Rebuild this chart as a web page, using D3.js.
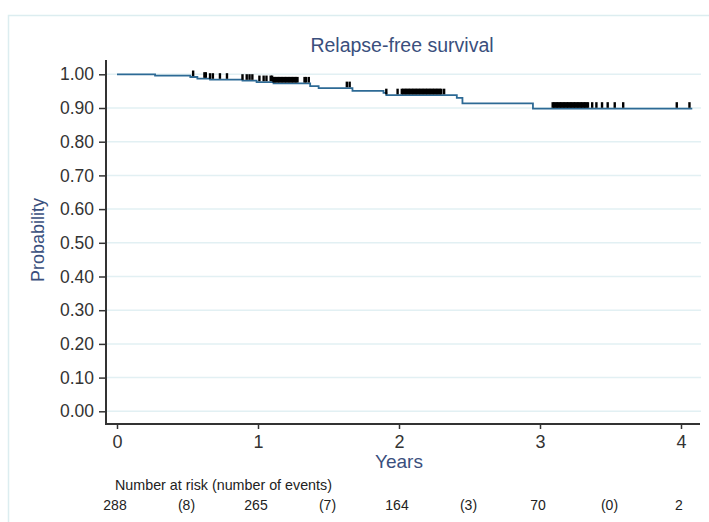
<!DOCTYPE html>
<html>
<head>
<meta charset="utf-8">
<script src="https://cdn.jsdelivr.net/npm/d3@7"></script>
<style>
  html, body { margin: 0; padding: 0; background: #fff; }
  svg { display: block; font-family: "Liberation Sans", Arial, sans-serif; }
</style>
</head>
<body>
<svg id="chart"></svg>
<script>
// step curve: time (years) at which survival drops, and the value after the drop
var stepTimes = [0, 0.27, 0.52, 0.57, 0.66, 0.89, 0.99, 1.11, 1.37, 1.43, 1.67, 1.89, 1.91, 2.41, 2.45, 2.95];
var stepValues = [1.000, 0.996, 0.992, 0.987, 0.984, 0.981, 0.977, 0.973, 0.965, 0.959, 0.951, 0.945, 0.938, 0.930, 0.914, 0.898];
var lastTime = 4.08;

// censored observations (tick marks)
var censorTimes = [
    0.54, 0.62, 0.63, 0.66, 0.68, 0.73, 0.78, 0.89, 0.92, 0.94, 0.96, 1.01, 1.04, 1.06,
    1.09, 1.10, 1.11, 1.12, 1.13, 1.14, 1.15, 1.16, 1.17, 1.18, 1.19, 1.20, 1.21, 1.22,
    1.23, 1.24, 1.25, 1.26, 1.27, 1.28, 1.33, 1.34, 1.36,
    1.63, 1.65, 1.91, 1.99,
    2.02, 2.03, 2.04, 2.05, 2.06, 2.07, 2.08, 2.09, 2.10, 2.11, 2.12, 2.13, 2.14, 2.15,
    2.16, 2.17, 2.18, 2.19, 2.20, 2.21, 2.22, 2.23, 2.24, 2.25, 2.26, 2.27, 2.28, 2.29,
    2.30, 2.32,
    3.09, 3.10, 3.11, 3.12, 3.13, 3.14, 3.15, 3.16, 3.17, 3.18, 3.19, 3.20, 3.21, 3.22,
    3.23, 3.24, 3.25, 3.26, 3.27, 3.28, 3.29, 3.30, 3.31, 3.32, 3.33, 3.34,
    3.37, 3.40, 3.44, 3.48, 3.53, 3.59, 3.97, 4.06
];

var xTicks = [0, 1, 2, 3, 4];
var yTicks = [0, 0.1, 0.2, 0.3, 0.4, 0.5, 0.6, 0.7, 0.8, 0.9, 1.0];

// number at risk table
var riskTimes = [0, 1, 2, 3, 4];
var atRisk = [288, 265, 164, 70, 2];
var eventTimes = [0.5, 1.5, 2.5, 3.5];
var eventCounts = [8, 7, 3, 0];

var width = 709;
var height = 522;
var titleColor = '#3a4f7d';
var curveColor = '#2d6a95';

var svg = d3.select('#chart')
    .attr('width', width)
    .attr('height', height);

// outer frame
svg.append('rect')
    .attr('x', 8.5).attr('y', 15.5)
    .attr('width', 730).attr('height', 530)
    .attr('fill', '#fff')
    .attr('stroke', '#dcedf0')
    .attr('stroke-width', 1.5);

var x = d3.scaleLinear().domain([0, 4]).range([117, 681]);
var y = d3.scaleLinear().domain([0, 1]).range([411.3, 74.3]);

var plotLeft = 106, plotRight = 701, plotTop = 60, plotBottom = 424;

// gridlines
svg.append('g')
    .selectAll('line').data(yTicks)
    .enter().append('line')
    .attr('x1', plotLeft).attr('x2', plotRight)
    .attr('y1', d => y(d)).attr('y2', d => y(d))
    .attr('stroke', '#e2f0f3')
    .attr('stroke-width', 1.5);

// y axis
var yAxis = svg.append('g')
    .attr('transform', `translate(${plotLeft},0)`)
    .call(d3.axisLeft(y).tickValues(yTicks).tickSize(7).tickPadding(5).tickFormat(d3.format('.2f')));
yAxis.select('.domain').remove();
yAxis.selectAll('line').attr('stroke', '#333').attr('stroke-width', 1.5);
yAxis.selectAll('text')
    .attr('font-size', 17.5)
    .attr('fill', '#333')
    .attr('font-family', '"Liberation Sans", Arial, sans-serif');
svg.append('line')
    .attr('x1', plotLeft).attr('x2', plotLeft)
    .attr('y1', plotTop).attr('y2', plotBottom)
    .attr('stroke', '#333').attr('stroke-width', 2);

// x axis
var xAxis = svg.append('g')
    .attr('transform', `translate(0,${plotBottom})`)
    .call(d3.axisBottom(x).tickValues(xTicks).tickSize(5).tickPadding(6).tickFormat(d3.format('d')));
xAxis.select('.domain').remove();
xAxis.selectAll('line').attr('stroke', '#333').attr('stroke-width', 1.5);
xAxis.selectAll('text')
    .attr('font-size', 18)
    .attr('fill', '#333')
    .attr('font-family', '"Liberation Sans", Arial, sans-serif');
svg.append('line')
    .attr('x1', plotLeft - 1).attr('x2', plotRight - 1)
    .attr('y1', plotBottom).attr('y2', plotBottom)
    .attr('stroke', '#333').attr('stroke-width', 2);

// survival curve
var curvePoints = stepTimes.map((t, i) => [t, stepValues[i]]);
curvePoints.push([lastTime, stepValues[stepValues.length - 1]]);
var lineGen = d3.line()
    .x(d => x(d[0]))
    .y(d => y(d[1]))
    .curve(d3.curveStepAfter);
svg.append('path')
    .datum(curvePoints)
    .attr('d', lineGen)
    .attr('fill', 'none')
    .attr('stroke', curveColor)
    .attr('stroke-width', 1.8);

function survivalAt(t) {
    var i = d3.bisectRight(stepTimes, t) - 1;
    return stepValues[Math.max(0, i)];
}

// censor marks
svg.append('g')
    .selectAll('line').data(censorTimes)
    .enter().append('line')
    .attr('x1', d => x(d)).attr('x2', d => x(d))
    .attr('y1', d => y(survivalAt(d)) - 0.9)
    .attr('y2', d => y(survivalAt(d)) - 6.5)
    .attr('stroke', '#000')
    .attr('stroke-width', 2.4);

// titles
svg.append('text')
    .attr('x', 402).attr('y', 52)
    .attr('text-anchor', 'middle')
    .attr('font-size', 19.5)
    .attr('fill', titleColor)
    .text('Relapse-free survival');

svg.append('text')
    .attr('transform', 'translate(44,240) rotate(-90)')
    .attr('text-anchor', 'middle')
    .attr('font-size', 18)
    .attr('fill', titleColor)
    .text('Probability');

svg.append('text')
    .attr('x', x(2)).attr('y', 468)
    .attr('text-anchor', 'middle')
    .attr('font-size', 19)
    .attr('fill', titleColor)
    .text('Years');

// number at risk table
svg.append('text')
    .attr('x', 115).attr('y', 490)
    .attr('font-size', 14.3)
    .attr('fill', '#222')
    .text('Number at risk (number of events)');

svg.append('g')
    .selectAll('text').data(riskTimes)
    .enter().append('text')
    .attr('x', d => x(d) - 2).attr('y', 510)
    .attr('text-anchor', 'middle')
    .attr('font-size', 14)
    .attr('fill', '#222')
    .text((d, i) => atRisk[i]);

svg.append('g')
    .selectAll('text').data(eventTimes)
    .enter().append('text')
    .attr('x', d => x(d) - 1).attr('y', 510)
    .attr('text-anchor', 'middle')
    .attr('font-size', 14)
    .attr('fill', '#222')
    .text((d, i) => '(' + eventCounts[i] + ')');
</script>
</body>
</html>
